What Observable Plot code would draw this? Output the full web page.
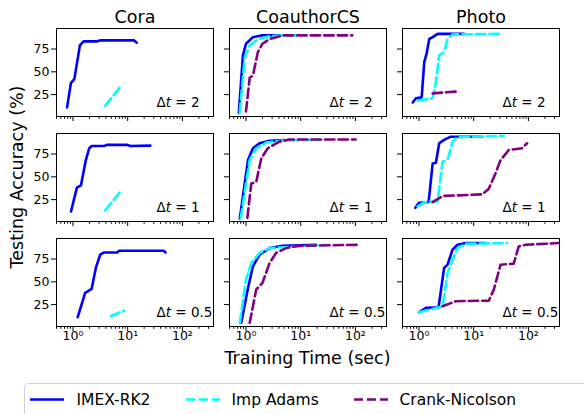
<!DOCTYPE html>
<html><head><meta charset="utf-8">
<script src="https://cdn.jsdelivr.net/npm/d3@7"></script>
<script src="https://cdn.jsdelivr.net/npm/@observablehq/plot@0.6"></script>
<style>
html,body{margin:0;padding:0;background:#fff;overflow:hidden;width:584px;height:414px;}
#wrap{position:relative;width:584px;height:414px;font-family:"DejaVu Sans",sans-serif;}
#chart{position:absolute;left:0;top:0;}
.legend{position:absolute;left:23.5px;top:383px;width:620px;height:60px;border:1px solid #d3d3d3;border-radius:4px;box-sizing:border-box;background:#fff;}
.item{position:absolute;top:0;height:32px;}
.item svg{position:absolute;top:8px;left:0;}
.item span{position:absolute;top:6px;white-space:nowrap;font-size:15.5px;color:#000;line-height:20px;}
</style></head>
<body><div id="wrap"><div id="chart"></div><div class="legend" id="legend"></div></div>
<script>
// ---- data ----
const datasets = ["Cora", "CoauthorCS", "Photo"];
const stepLabels = ["Δt = 2", "Δt = 1", "Δt = 0.5"];
const methods = ["IMEX-RK2", "Imp Adams", "Crank-Nicolson"];
const colors = ["#0000ff", "#00ffff", "#800080"];
const xTicks = [1, 10, 100];
const xTickLabels = ["10\u2070", "10\u00b9", "10\u00b2"];
const xMinorTicks = [0.5,0.6,0.7,0.8,0.9,2,3,4,5,6,7,8,9,20,30,40,50,60,70,80,90,200,300];
const yTicks = [25, 50, 75];

// [training time (sec), testing accuracy (%)]
const cora2_imex = [[0.78,11],[0.92,38],[1.06,42],[1.34,79],[1.56,83.4],[2.8,83.4],[3.2,84.5],[13,84.5],[14.6,82]];
const cora2_adams = [[3.87,12.7],[7.25,33]];
const cora1_imex = [[0.92,12],[1.18,38.2],[1.40,40.7],[1.72,68.4],[1.98,81.3],[2.2,83.8],[3.7,83.8],[4.15,85],[9.9,85],[11.3,83.8],[26,84.2]];
const cora1_adams = [[3.87,13],[7.25,33.3]];
const cora05_imex = [[1.22,11.2],[1.67,37.8],[2.19,42.2],[2.62,65.2],[3.14,79.7],[3.7,82.2],[6.5,82.2],[6.9,84],[45.7,84],[49,82.2]];
const cora05_adams = [[4.9,12.3],[8.6,18.5]];

const coauthor2_imex = [[0.74,5],[0.88,68],[1.0,80.8],[1.34,88],[2.0,90],[4.1,90]];
const coauthor2_adams = [[0.77,5],[0.95,66],[1.17,79],[1.65,85.5],[2.7,89],[4.7,90],[9.4,90]];
const coauthor2_cn = [[1.0,6.5],[1.17,43.5],[1.34,46],[1.65,71.7],[2.0,80.8],[2.7,86],[4.7,90],[88,90]];
const coauthor1_imex = [[0.77,4],[1.09,68.4],[1.34,81.3],[1.77,86.8],[2.7,89.4],[5,90.3]];
const coauthor1_adams = [[0.8,4],[1.17,68.4],[1.54,81.3],[2.34,87.5],[4.7,89.7],[21.9,90.5]];
const coauthor1_cn = [[1.06,5],[1.25,42.6],[1.54,44.4],[1.9,70],[2.5,81.3],[4.1,88.6],[6.2,91],[101,91]];
const coauthor05_imex = [[0.82,5],[1.09,43.3],[1.34,67],[1.77,79.7],[2.7,87],[4.7,89.5],[19,90.6]];
const coauthor05_adams = [[0.77,5],[1.0,52.4],[1.25,70.6],[1.77,81.6],[2.7,87],[28.8,90.6]];
const coauthor05_cn = [[1.17,5],[1.54,41.5],[2.0,48.8],[2.7,70.6],[3.55,81.6],[5.4,87],[9.4,89.5],[117,90.6]];

const photo2_imex = [[0.77,16.3],[0.88,21],[1.12,22],[1.25,61],[1.38,70],[1.54,86],[1.78,88],[2.19,91.6],[6.66,91.6]];
const photo2_adams = [[0.95,18.5],[1.78,21],[2.04,39],[2.34,68],[2.88,71.7],[3.33,86],[4.1,91],[31,91.6]];
const photo2_cn = [[1.78,26.4],[4.7,28.3]];
const photo1_imex = [[0.86,16],[1.0,21.6],[1.5,22.3],[1.78,64.7],[2.04,65.4],[2.34,86.8],[2.88,90.5],[3.8,94],[14.4,94]];
const photo1_adams = [[0.95,17.5],[1.25,22.3],[2.19,23],[2.7,66.5],[3.33,68.4],[4.1,88.6],[5.05,93.5],[35.5,95]];
const photo1_cn = [[1.78,22.3],[2.7,29],[14.4,30.8],[18.9,37],[25,53.7],[31,68.4],[43.8,79.4],[76,81.3],[94.5,86.8]];
const photo05_imex = [[1.0,16.6],[1.34,21.4],[2.28,22.1],[2.88,65.2],[3.33,68.8],[4.1,85.2],[5.05,90.6],[7.2,92.5],[16.5,92.5]];
const photo05_adams = [[1.0,16.6],[2.34,22.1],[2.7,23.2],[3.33,59.7],[4.1,74.2],[5.05,87],[7.2,91.7],[41,92.5]];
const photo05_cn = [[2.7,23.2],[4.7,28.7],[18.9,29.4],[23.3,41.4],[31,68.8],[54,69.9],[66.5,88.8],[88,90.6],[355,92.5]];

// ---- table ----
const rows = [];
function add(di, si, mi, pts) {
  for (const [t, a] of pts) rows.push({dataset: datasets[di], step: stepLabels[si], method: methods[mi], series: di + "-" + si + "-" + mi, t, a});
}
add(0,0,0,cora2_imex); add(0,0,1,cora2_adams);
add(0,1,0,cora1_imex); add(0,1,1,cora1_adams);
add(0,2,0,cora05_imex); add(0,2,1,cora05_adams);
add(1,0,0,coauthor2_imex); add(1,0,1,coauthor2_adams); add(1,0,2,coauthor2_cn);
add(1,1,0,coauthor1_imex); add(1,1,1,coauthor1_adams); add(1,1,2,coauthor1_cn);
add(1,2,0,coauthor05_imex); add(1,2,1,coauthor05_adams); add(1,2,2,coauthor05_cn);
add(2,0,0,photo2_imex); add(2,0,1,photo2_adams); add(2,0,2,photo2_cn);
add(2,1,0,photo1_imex); add(2,1,1,photo1_adams); add(2,1,2,photo1_cn);
add(2,2,0,photo05_imex); add(2,2,1,photo05_adams); add(2,2,2,photo05_cn);

const cells = [];
for (const d of datasets) for (const s of stepLabels) cells.push({dataset: d, step: s});

const lineOpts = {x: "t", y: "a", z: "series", fx: "dataset", fy: "step", strokeWidth: 2.6};
const blank = () => "";
const xLabel = d => xTickLabels[xTicks.indexOf(d)] ?? "";

const chart = Plot.plot({
  width: 584, height: 376,
  marginLeft: 55, marginRight: 24, marginTop: 27, marginBottom: 49,
  style: {fontFamily: "DejaVu Sans, sans-serif", fontSize: "12.5px", color: "black", background: "white"},
  x: {type: "log", domain: [0.5, 370]},
  y: {domain: [1, 97.5]},
  fx: {domain: datasets, paddingInner: 0.09, paddingOuter: 0},
  fy: {domain: stepLabels, paddingInner: 0.163, paddingOuter: 0, axis: null},
  marks: [
    Plot.axisFx({anchor: "top", tickSize: 0, tickPadding: 6, fontSize: 17.5, label: null}),
    Plot.axisX({ticks: xTicks, tickSize: 5, tickFormat: blank, facetAnchor: null, label: null}),
    Plot.axisX({ticks: xMinorTicks, tickSize: 2.8, tickFormat: blank, facetAnchor: null, label: null}),
    Plot.axisX({ticks: xTicks, tickSize: 0, tickPadding: 5, tickFormat: xLabel, label: null}),
    Plot.axisY({ticks: yTicks, tickSize: 5, tickFormat: blank, facetAnchor: null, label: null}),
    Plot.axisY({ticks: yTicks, tickSize: 0, tickPadding: 7, label: null}),
    Plot.line(rows.filter(d => d.method === methods[0]), {...lineOpts, stroke: colors[0]}),
    Plot.line(rows.filter(d => d.method === methods[1]), {...lineOpts, stroke: colors[1], strokeDasharray: "9.5,4"}),
    Plot.line(rows.filter(d => d.method === methods[2]), {...lineOpts, stroke: colors[2], strokeDasharray: "9.5,4"}),
    Plot.text(cells, {fx: "dataset", fy: "step", text: "step", frameAnchor: "bottom-left", dx: 100, dy: -14, textAnchor: "start", lineAnchor: "middle", fontSize: 13.5, fill: "black"}),
    Plot.frame({stroke: "black", strokeWidth: 1})
  ]
});
document.getElementById("chart").appendChild(chart);

// italic t in Δt labels
const svg = d3.select(chart);
svg.selectAll("text").each(function() {
  const el = d3.select(this);
  const s = this.textContent;
  if (s.startsWith("Δt") && this.querySelectorAll("tspan").length === 0) {
    el.text("");
    el.append("tspan").text("Δ");
    el.append("tspan").attr("font-style", "italic").text("t");
    el.append("tspan").text(s.slice(2));
  }
});
// axis titles
svg.append("text").attr("x", 307.5).attr("y", 358).attr("dy", "0.35em")
  .attr("text-anchor", "middle").attr("font-size", "17.5px").attr("fill", "black").text("Training Time (sec)");
svg.append("text").attr("transform", "translate(17,177) rotate(-90)").attr("dy", "0.35em")
  .attr("text-anchor", "middle").attr("font-size", "17.5px").attr("fill", "black").text("Testing Accuracy (%)");

// legend
const legendItems = [
  {label: methods[0], color: colors[0], dash: null, x: 5, tx: 52},
  {label: methods[1], color: colors[1], dash: "9,4", x: 161, tx: 207},
  {label: methods[2], color: colors[2], dash: "9,4", x: 329, tx: 375}
];
const leg = d3.select("#legend");
for (const it of legendItems) {
  const g = leg.append("div").attr("class", "item").style("left", it.x + "px");
  const s = g.append("svg").attr("width", 36).attr("height", 16);
  s.append("line").attr("x1", 0).attr("x2", 34).attr("y1", 7.5).attr("y2", 7.5)
    .attr("stroke", it.color).attr("stroke-width", 2.6).attr("stroke-dasharray", it.dash);
  g.append("span").style("left", (it.tx - it.x) + "px").text(it.label);
}
</script></body></html>
